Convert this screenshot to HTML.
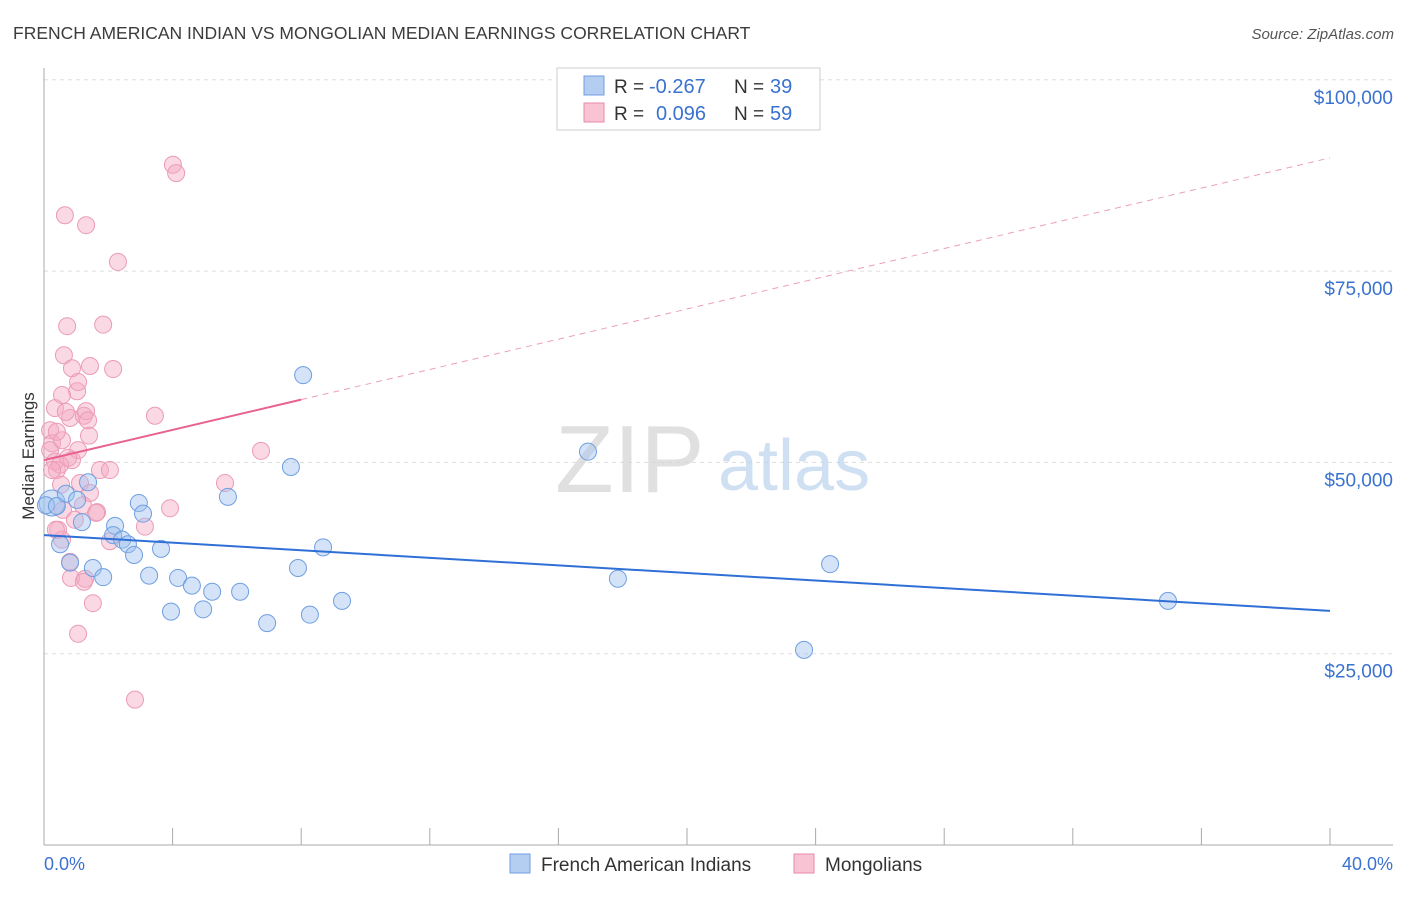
<!DOCTYPE html>
<html><head><meta charset="utf-8"><style>
body{margin:0;background:#fff;font-family:"Liberation Sans",sans-serif;}
svg text{font-family:"Liberation Sans",sans-serif;}
</style></head><body>
<svg id="chart" width="1406" height="892" xmlns="http://www.w3.org/2000/svg">
<text x="13" y="39" font-size="17.5" fill="#3c3c3c">FRENCH AMERICAN INDIAN VS MONGOLIAN MEDIAN EARNINGS CORRELATION CHART</text>
<text x="1394" y="39" font-size="15" fill="#555" text-anchor="end" font-style="italic">Source: ZipAtlas.com</text>
<g id="grid"></g>
<g><text x="555" y="492" font-size="96" font-family="Liberation Serif" fill="#d4d4d4" opacity="0.7">ZIP</text><text x="718" y="490" font-size="72" fill="#bcd3ef" opacity="0.7">atlas</text></g>
<line x1="44" y1="845" x2="1393" y2="845" stroke="#aaa"/>
<line x1="44" y1="68" x2="44" y2="845" stroke="#aaa"/>
<text transform="translate(34,456) rotate(-90)" font-size="17" fill="#333" text-anchor="middle">Median Earnings</text>
<text x="44" y="870" font-size="18" fill="#3a72d0">0.0%</text>
<text x="1393" y="870" font-size="18" fill="#3a72d0" text-anchor="end">40.0%</text>
<g id="marks"></g>
<g>
<rect x="557" y="68" width="263" height="62" fill="#fff" stroke="#ccc"/>
<rect x="584" y="76" width="20" height="19" fill="#b4cef2" stroke="#6f9fe0"/>
<rect x="584" y="103" width="20" height="19" fill="#f8c4d4" stroke="#e88aa8"/>
<text x="614" y="93" font-size="19" fill="#333">R =</text>
<text x="649" y="93" font-size="20" fill="#3a72d0">-0.267</text>
<text x="734" y="93" font-size="19" fill="#333">N =</text>
<text x="770" y="93" font-size="20" fill="#3a72d0">39</text>
<text x="614" y="120" font-size="19" fill="#333">R =</text>
<text x="656" y="120" font-size="20" fill="#3a72d0">0.096</text>
<text x="734" y="120" font-size="19" fill="#333">N =</text>
<text x="770" y="120" font-size="20" fill="#3a72d0">59</text>
</g>
<g>
<rect x="510" y="854" width="20" height="19" fill="#b4cef2" stroke="#6f9fe0"/>
<text x="541" y="871" font-size="19" fill="#333">French American Indians</text>
<rect x="794" y="854" width="20" height="19" fill="#f8c4d4" stroke="#e88aa8"/>
<text x="825" y="871" font-size="19" fill="#333">Mongolians</text>
</g>
</svg>
<script>
const yTicks=[25000,50000,75000,100000];
const yTickLabels=["$25,000","$50,000","$75,000","$100,000"];
const xTicks=[0,4,8,12,16,20,24,28,32,36,40];
const blueX=[0.25,0.06,0.4,0.68,0.5,0.81,1.03,1.18,1.37,1.52,1.84,2.21,2.15,2.43,2.61,2.8,2.95,3.08,3.27,3.64,3.95,4.17,4.6,4.95,5.23,5.72,6.1,6.94,7.68,7.9,8.06,8.27,8.68,9.27,16.92,17.85,23.64,24.45,34.96];
const blueY=[44700,44400,44300,45900,39300,36900,45100,42200,47400,36200,35000,41700,40500,39900,39300,37900,44700,43300,35200,38700,30500,34900,33900,30800,33100,45500,33100,29000,49400,36200,61400,30100,38900,31900,51400,34800,25500,36700,31900];
const pinkX=[0.34,0.19,0.25,0.19,0.34,0.4,0.56,0.62,0.65,0.72,0.81,0.87,1.03,1.06,1.24,1.31,1.31,1.4,0.87,0.5,1.12,1.43,1.74,1.84,2.15,2.3,0.53,0.96,1.21,1.65,2.05,0.56,0.81,0.84,1.28,1.52,1.06,2.83,3.14,3.45,3.92,4.01,4.11,5.63,6.75,1.62,1.06,0.75,0.25,1.43,1.24,0.44,1.37,0.4,0.68,0.56,0.37,2.05,0.59];
const pinkY=[57100,54200,52500,51600,50100,49000,52900,64000,82300,67800,55800,62300,59300,60500,56100,81000,56700,53500,50300,49700,47300,46000,49000,68000,62200,76200,47100,42500,44400,43500,39700,39900,37000,34900,34800,31600,27600,19000,41600,56100,44000,88900,87800,47300,51500,43400,51600,50600,49000,62600,34400,41200,55500,54000,56600,58800,41200,49000,43800];
const blueTrend=[40500,30600];
const pinkTrend=[50300,58200,89800];
const NS="http://www.w3.org/2000/svg";
const X=p=>44+p*32.15, Y=v=>845-v*0.007652;
function mk(t,a,parent){const e=document.createElementNS(NS,t);for(const k in a)e.setAttribute(k,a[k]);parent.appendChild(e);return e;}
const grid=document.getElementById('grid'), marks=document.getElementById('marks');
yTicks.forEach((v,i)=>{
 const l=mk('line',{x1:44,x2:1393,y1:Y(v),y2:Y(v),stroke:'#ddd','stroke-dasharray':'4,4'},grid);
 
 
 const t=mk('text',{x:1393,y:Y(v)+24,'font-size':19,fill:'#3a72d0','text-anchor':'end'},grid);
 t.textContent=yTickLabels[i];
 
 
});
xTicks.forEach(p=>{
 const l=mk('line',{x1:X(p),x2:X(p),y1:828,y2:845,stroke:'#aaa'},grid);
 
 
});
pinkX.forEach((p,i)=>{
 const c=mk('circle',{cx:X(p),cy:Y(pinkY[i]),r:8.5,fill:'rgba(245,170,195,0.45)',stroke:'#eb9bb5','stroke-width':1},marks);
 
 
});
blueX.forEach((p,i)=>{
 const c=mk('circle',{cx:X(p),cy:Y(blueY[i]),r:i==0?13:8.5,fill:'rgba(160,192,240,0.45)',stroke:'#6f9fe0','stroke-width':1},marks);
 
 
});
let t1=mk('line',{x1:X(0),y1:Y(blueTrend[0]),x2:X(40),y2:Y(blueTrend[1]),stroke:'#2f6fd6','stroke-width':2},marks);


let t2=mk('line',{x1:X(0),y1:Y(pinkTrend[0]),x2:X(8),y2:Y(pinkTrend[1]),stroke:'#e8628f','stroke-width':2},marks);


let t3=mk('line',{x1:X(8),y1:Y(pinkTrend[1]),x2:X(40),y2:Y(pinkTrend[2]),stroke:'#eca0b8','stroke-width':1,'stroke-dasharray':'6,5'},marks);


</script>
</body></html>
